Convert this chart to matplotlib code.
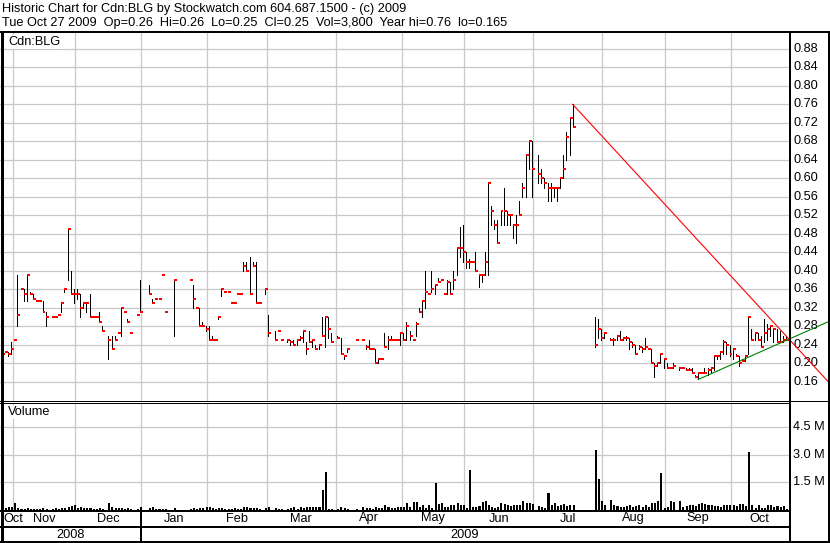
import matplotlib
matplotlib.use("Agg")
import matplotlib.pyplot as plt
from matplotlib.lines import Line2D
from matplotlib.transforms import blended_transform_factory

# header text
title_line = "Historic Chart for Cdn:BLG by Stockwatch.com 604.687.1500 - (c) 2009"
quote_line = "Tue Oct 27 2009  Op=0.26  Hi=0.26  Lo=0.25  Cl=0.25  Vol=3,800  Year hi=0.76  lo=0.165"

# trading-day index where each month starts (251 trading days shown)
month_names = ["Oct", "Nov", "Dec", "Jan", "Feb", "Mar", "Apr", "May", "Jun", "Jul", "Aug", "Sep", "Oct"]
month_start = [0, 4, 24, 45, 66, 85, 107, 128, 148, 170, 192, 212, 233]
n_days = 251
year_names = ["2008", "2009"]
year_start = [0, 45]

price_ticks = [0.16, 0.20, 0.24, 0.28, 0.32, 0.36, 0.40, 0.44, 0.48, 0.52,
               0.56, 0.60, 0.64, 0.68, 0.72, 0.76, 0.80, 0.84, 0.88]
volume_ticks = [1.5, 3.0, 4.5]
volume_labels = ["1.5 M", "3.0 M", "4.5 M"]

# daily bars (day index, high, low, close), one line per month
price_day = [
    0, 1, 2, 3,
    4, 5, 6, 7, 8, 9, 10, 11, 12, 13, 14, 16, 17, 18, 19, 20, 21, 22, 23,
    24, 25, 26, 27, 28, 29, 30, 31, 32, 34, 35, 36, 37, 38, 39, 40, 41, 43, 44,
    47, 48, 49, 50, 51, 52, 55, 60, 61, 62, 63, 64, 65,
    66, 67, 68, 69, 70, 71, 72, 73, 74, 75, 76, 77, 78, 79, 80, 81, 82, 84,
    85, 87, 88, 89, 91, 92, 93, 94, 95, 96, 97, 98, 99, 100, 101, 102, 103, 104, 105,
    107, 108, 109, 110, 113, 115, 116, 117, 118, 119, 120, 121, 122, 123, 124, 125, 126, 127,
    128, 129, 130, 131, 132, 133, 134, 135, 136, 137, 138, 139, 140, 141, 142, 143, 144, 145, 146, 147,
    148, 149, 150, 151, 152, 153, 154, 155, 156, 157, 158, 159, 160, 161, 162, 163, 164, 165, 166, 167, 168, 169,
    171, 172, 173, 174, 175, 176, 177, 178, 179, 180, 181, 182, 189, 190, 191,
    192, 194, 195, 196, 197, 198, 199, 200, 201, 202, 203, 204, 205, 206, 207, 208, 209, 210, 211,
    212, 213, 214, 216, 217, 218, 219, 220, 221, 222, 223, 224, 225, 226, 227, 228, 229, 230, 231, 232,
    233, 234, 235, 236, 237, 238, 239, 240, 241, 242, 243, 244, 245, 246, 247, 248, 249, 250,
]
price_high = [
    .24, .225, .225, .245,
    .25, .39, .36, .36, .39, .355, .35, .335, .335, .335, .31, .30, .30, .305, .33, .36, .49, .40, .36,
    .36, .35, .33, .33, .35, .30, .30, .31, .28, .26, .26, .26, .265, .32, .31, .295, .265, .305, .38,
    .37, .34, .34, .34, .39, .31, .38, .38, .37, .32, .32, .29, .28,
    .28, .26, .25, .30, .36, .355, .355, .33, .33, .35, .35, .42, .42, .43, .42, .42, .33, .36,
    .305, .27, .27, .25, .25, .25, .25, .25, .26, .27, .245, .27, .25, .24, .24, .30, .30, .30, .265,
    .26, .255, .215, .23, .25, .25, .24, .25, .23, .23, .21, .21, .265, .26, .26, .25, .25, .265,
    .265, .29, .27, .25, .29, .32, .335, .40, .35, .40, .37, .385, .38, .35, .38, .375, .40, .45, .495, .50,
    .44, .425, .42, .44, .39, .39, .44, .59, .54, .51, .51, .53, .58, .53, .52, .50, .52, .55, .59, .65, .68, .68,
    .65, .62, .60, .59, .59, .58, .58, .60, .65, .70, .73, .76, .30, .295, .275,
    .265, .255, .255, .26, .27, .255, .26, .255, .245, .24, .24, .235, .255, .23, .23, .20, .20, .22, .21,
    .20, .19, .20, .19, .19, .19, .19, .19, .175, .18, .18, .19, .19, .19, .215, .215, .225, .25, .245, .24,
    .23, .22, .215, .21, .215, .30, .275, .265, .265, .26, .295, .285, .28, .275, .275, .27, .26, .26,
]
price_low = [
    .20, .225, .215, .22,
    .25, .28, .36, .335, .335, .35, .34, .335, .335, .31, .28, .30, .30, .305, .31, .355, .38, .35, .33,
    .34, .30, .32, .31, .30, .30, .30, .29, .27, .21, .23, .25, .265, .26, .31, .29, .265, .305, .31,
    .35, .33, .34, .34, .39, .31, .26, .38, .32, .32, .28, .28, .27,
    .25, .25, .25, .295, .345, .355, .355, .33, .33, .35, .35, .40, .40, .35, .41, .33, .33, .35,
    .26, .25, .27, .25, .245, .24, .24, .24, .25, .245, .22, .245, .235, .23, .23, .26, .235, .255, .245,
    .255, .22, .21, .225, .25, .25, .23, .23, .23, .20, .20, .21, .235, .23, .25, .25, .25, .24,
    .25, .25, .25, .25, .26, .31, .30, .32, .35, .355, .35, .375, .38, .35, .35, .35, .36, .39, .43, .42,
    .405, .405, .42, .40, .365, .375, .39, .39, .50, .49, .46, .50, .50, .50, .50, .47, .46, .52, .56, .56, .62, .56,
    .59, .59, .58, .55, .55, .56, .55, .58, .60, .64, .65, .71, .235, .255, .25,
    .255, .25, .24, .25, .25, .25, .25, .23, .235, .22, .23, .225, .23, .23, .20, .17, .195, .20, .19,
    .19, .19, .19, .185, .19, .185, .185, .18, .17, .165, .18, .18, .175, .18, .185, .21, .21, .22, .22, .215,
    .21, .215, .195, .205, .205, .22, .25, .25, .25, .235, .245, .25, .26, .245, .245, .245, .245, .25,
]
price_close = [
    .22, .225, .22, .23,
    .25, .305, .36, .35, .39, .35, .34, .335, .335, .31, .30, .30, .30, .305, .33, .36, .49, .35, .35,
    .35, .32, .33, .33, .30, .30, .30, .29, .27, .25, .23, .25, .265, .32, .31, .29, .265, .305, .31,
    .35, .33, .34, .34, .39, .31, .38, .38, .34, .32, .28, .28, .275,
    .25, .25, .25, .30, .36, .355, .355, .33, .33, .35, .35, .41, .40, .35, .41, .33, .33, .36,
    .265, .25, .27, .25, .25, .245, .24, .25, .255, .27, .23, .245, .25, .23, .24, .26, .30, .275, .245,
    .255, .22, .215, .23, .25, .25, .235, .23, .23, .20, .21, .21, .235, .25, .25, .25, .25, .265,
    .25, .28, .26, .25, .285, .31, .335, .355, .35, .36, .37, .375, .38, .35, .375, .35, .38, .45, .45, .44,
    .42, .42, .42, .40, .39, .39, .42, .59, .53, .50, .46, .53, .53, .52, .52, .50, .50, .52, .58, .65, .68, .62,
    .61, .60, .59, .58, .58, .58, .58, .60, .62, .69, .73, .71, .24, .275, .255,
    .265, .25, .25, .26, .25, .255, .255, .245, .24, .22, .235, .23, .235, .23, .20, .195, .20, .22, .21,
    .19, .19, .195, .19, .19, .185, .185, .18, .17, .18, .18, .18, .185, .19, .215, .215, .225, .245, .24, .22,
    .23, .215, .20, .205, .215, .30, .25, .265, .25, .235, .265, .275, .28, .275, .245, .245, .25, .25,
]
# daily volume in millions of shares
volume_m = [
    .31, .07, .16, .16,
    .35, .06, .05, .05, .06, .05, .05, .04, .05, .06, .05, .05, .06, .05, .06, .07, .12, .18, .22,
    .07, .16, .06, .07, .08, .05, .05, .06, .05, .35, .13, .06, .06, .08, .05, .06, .05, .04, .12,
    .06, .11, .05, .05, .04, .05, .06, .05, .08, .04, .06, .07, .11,
    .12, .08, .05, .06, .10, .05, .04, .05, .06, .05, .04, .12, .12, .08, .06, .10, .05, .07,
    .13, .09, .05, .05, .05, .07, .11, .05, .11, .07, .11, .11, .16, .16, .16, 1.04, 2.02, .05, .05,
    .05, .11, .08, .04, .05, .11, .07, .07, .05, .11, .07, .07, .22, .16, .07, .07, .13, .16,
    .16, .35, .13, .40, .40, .13, .27, .07, .22, .09, 1.42, .31, .35, .13, .13, .22, .27, .35, .27, .27,
    .07, 2.13, .13, .13, .18, .40, .45, .22, .13, .07, .11, .35, .31, .22, .18, .22, .22, .27, .45, .35, .35, .31,
    .18, .13, .07, .89, .27, .35, .18, .27, .31, .18, .27, .27, 3.27, 1.64, .45,
    .27, .53, .27, .18, .16, .13, .18, .22, .13, .18, .22, .13, .27, .13, .36, .35, .49, 1.98, .07,
    .13, .44, .40, .44, .13, .18, .22, .22, .18, .31, .38, .31, .25, .22, .18, .18, .16, .25, .22, .22,
    .22, .18, .31, .30, .20, 3.16, .27, .07, .22, .07, .07, .27, .22, .16, .18, .13, .18, .004,
]

# trend lines drawn on the chart (day index, price)
resistance_day = [182, 263.5]
resistance_price = [0.76, 0.16]
support_day = [222, 263.5]
support_price = [0.165, 0.29]

W, H = 830, 543
GRID = "#c8c8c8"
plt.rcParams["font.family"] = ["Liberation Sans", "DejaVu Sans"]
FS = 9.2


def fx(px):
    return px / W


def fy(py):
    return 1 - py / H


fig = plt.figure(figsize=(W / 100, H / 100), dpi=100)
fig.patch.set_facecolor("white")

right_px = 788.5
price_top, price_bot = 32, 400.5
vol_top, vol_bot = 402.5, 509.5
x_lo = -0.55
x_hi = right_px / 3.137 + x_lo

ax = fig.add_axes([0, fy(price_bot), fx(right_px), (price_bot - price_top) / H])
axv = fig.add_axes([0, fy(vol_bot), fx(right_px), (vol_bot - vol_top) / H])

px_per_price = 18.5 / 0.04
ax.set_ylim(0.76 - (price_bot - 104.3) / px_per_price, 0.76 + (104.3 - price_top) / px_per_price)
axv.set_ylim(0, (vol_bot - vol_top) / 18.33)

for a in (ax, axv):
    a.set_xlim(x_lo, x_hi)
    a.set_xticks([])
    a.set_yticks([])
    for s in a.spines.values():
        s.set_visible(False)
    for m in month_start[1:]:
        a.axvline(m - 0.5, color=GRID, lw=0.9, zorder=0)

for p in price_ticks:
    ax.axhline(p, color=GRID, lw=0.9, zorder=0)
for v in volume_ticks:
    axv.axhline(v, color=GRID, lw=0.9, zorder=0)

# OHLC bars: black high-low line, red close tick to the right
ax.vlines(price_day, price_low, price_high, color="black", lw=0.72, zorder=3, antialiased=False)
ax.hlines(price_close, price_day, [d + 0.95 for d in price_day],
          color="#ff0000", lw=1.44, zorder=4, antialiased=False)

ax.plot(resistance_day, resistance_price, color="#ff0000", lw=0.8, clip_on=False, zorder=5)
ax.plot(support_day, support_price, color="#008000", lw=0.8, clip_on=False, zorder=5)

axv.bar([d + 0.3 for d in price_day], volume_m, width=0.65, color="black", lw=0,
        zorder=3, antialiased=False)

# panel labels
ax.text(fx(8), fy(42), "Cdn:BLG", transform=fig.transFigure, fontsize=FS, va="center", ha="left",
        bbox=dict(facecolor="white", edgecolor="none", pad=1), zorder=6)
axv.text(fx(8), fy(412), "Volume", transform=fig.transFigure, fontsize=FS, va="center", ha="left",
         bbox=dict(facecolor="white", edgecolor="none", pad=1), zorder=6)

# right-hand axis labels
tp = blended_transform_factory(fig.transFigure, ax.transData)
for p in price_ticks:
    ax.text(fx(793), p, f"{p:.2f}", transform=tp, fontsize=FS, va="center", ha="left", clip_on=False)
tv = blended_transform_factory(fig.transFigure, axv.transData)
for v, lab in zip(volume_ticks, volume_labels):
    axv.text(fx(793), v, lab, transform=tv, fontsize=FS, va="center", ha="left", clip_on=False)

# header
fig.text(fx(2), fy(9), title_line, fontsize=FS, va="center", ha="left")
fig.text(fx(2), fy(23), quote_line, fontsize=FS, va="center", ha="left")

# month and year rows
day_px = lambda d: (d - x_lo) * right_px / (x_hi - x_lo)
edges = [m - 0.5 for m in month_start] + [n_days - 0.5]
for i, name in enumerate(month_names):
    if i == 0:
        fig.text(fx(3), fy(518.5), name, fontsize=FS, ha="left", va="center")
        continue
    mid = (day_px(edges[i]) + day_px(edges[i + 1])) / 2
    fig.text(fx(mid), fy(518.5), name, fontsize=FS, ha="center", va="center")
yedges = [0, day_px(year_start[1] - 0.5), right_px]
for i, name in enumerate(year_names):
    fig.text(fx((yedges[i] + yedges[i + 1]) / 2), fy(534.5), name, fontsize=FS, ha="center", va="center")


def frame(x0, y0, x1, y1, w):
    fig.add_artist(Line2D([fx(x0), fx(x1)], [fy(y0), fy(y1)], color="black", lw=w * 0.72,
                          solid_capstyle="butt", antialiased=False))


frame(0, 31.5, 830, 31.5, 2)
frame(1.5, 31, 1.5, 543, 3)
frame(789.5, 31, 789.5, 543, 2)
frame(829, 31, 829, 543, 2)
frame(0, 400.5, 830, 400.5, 1)
frame(0, 402.5, 789, 402.5, 1)
frame(0, 510.5, 789, 510.5, 2)
frame(0, 527, 789, 527, 2)
frame(0, 542, 830, 542, 2)
frame(yedges[1], 510, yedges[1], 543, 2)

fig.savefig("out.png", dpi=100, facecolor="white")
